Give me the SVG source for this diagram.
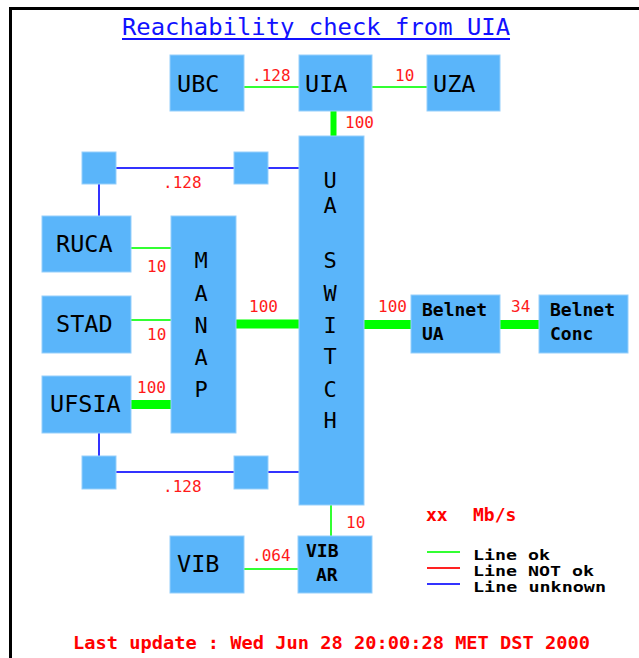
<svg xmlns="http://www.w3.org/2000/svg" width="639" height="658" viewBox="0 0 639 658">
<style>
.box{fill:#5ab5fa;stroke:#96cffb;stroke-width:1}
.lbl{font-family:"DejaVu Sans Mono","Liberation Mono",monospace;font-size:23.5px;fill:#000}
.vl{font-family:"DejaVu Sans Mono","Liberation Mono",monospace;font-size:22px;fill:#000;text-anchor:middle}
.sm{font-family:"DejaVu Sans Mono","Liberation Mono",monospace;font-size:18px;font-weight:bold;fill:#000}
.lg{font-family:"DejaVu Sans Mono","Liberation Mono",monospace;font-size:13.5px;font-weight:bold;fill:#000}
.rate{font-family:"DejaVu Sans Mono","Liberation Mono",monospace;font-size:16px;fill:#ff1a1a}
.ok{stroke:#33ff33;stroke-width:2;fill:none}
.okb{stroke:#00ff00;fill:none}
.unk{stroke:#3333ff;stroke-width:2;fill:none}
.nok{stroke:#ff2222;stroke-width:2;fill:none}
.red{font-family:"DejaVu Sans Mono","Liberation Mono",monospace;font-size:18px;font-weight:bold;fill:#ff0000}
</style>
<rect x="0" y="0" width="639" height="658" fill="#fff"/>
<g id="frame">
<rect x="9" y="7" width="630" height="3" fill="#000"/>
<rect x="9" y="7" width="3" height="651" fill="#000"/>
</g>
<g id="title">
<text x="122" y="35" textLength="388" lengthAdjust="spacingAndGlyphs" font-family="DejaVu Sans Mono, Liberation Mono, monospace" font-size="23" fill="#1111ff">Reachability check from UIA</text>
<line x1="122" y1="39" x2="510" y2="39" stroke="#1111ff" stroke-width="2"/>
</g>
<g id="connectors">
<line class="ok" x1="244" y1="87" x2="299" y2="87"/>
<line class="ok" x1="372" y1="87" x2="427" y2="87"/>
<line class="okb" x1="333.5" y1="111" x2="333.5" y2="136" stroke-width="6"/>
<line class="unk" x1="116" y1="168" x2="234" y2="168"/>
<line class="unk" x1="268" y1="168" x2="299" y2="168"/>
<line class="unk" x1="99" y1="184" x2="99" y2="216"/>
<line class="ok" x1="131" y1="248" x2="171" y2="248"/>
<line class="ok" x1="131" y1="320" x2="171" y2="320"/>
<line class="okb" x1="131" y1="404.5" x2="171" y2="404.5" stroke-width="9"/>
<line class="okb" x1="236" y1="324" x2="299" y2="324" stroke-width="9"/>
<line class="okb" x1="364" y1="324.5" x2="411" y2="324.5" stroke-width="9"/>
<line class="okb" x1="500" y1="324.5" x2="539" y2="324.5" stroke-width="9"/>
<line class="unk" x1="99" y1="433" x2="99" y2="456"/>
<line class="unk" x1="116" y1="472" x2="234" y2="472"/>
<line class="unk" x1="268" y1="472" x2="299" y2="472"/>
<line class="ok" x1="331" y1="505" x2="331" y2="536"/>
<line class="ok" x1="244" y1="569" x2="298" y2="569"/>
</g>
<g id="rates">
<text class="rate" x="252" y="81">.128</text>
<text class="rate" x="395" y="81">10</text>
<text class="rate" x="345" y="128">100</text>
<text class="rate" x="163" y="188">.128</text>
<text class="rate" x="147" y="272">10</text>
<text class="rate" x="147" y="340">10</text>
<text class="rate" x="137" y="393">100</text>
<text class="rate" x="249" y="312">100</text>
<text class="rate" x="378" y="312">100</text>
<text class="rate" x="511" y="312">34</text>
<text class="rate" x="163" y="492">.128</text>
<text class="rate" x="346" y="528">10</text>
<text class="rate" x="252" y="561">.064</text>
</g>
<g id="UBC"><rect class="box" x="170" y="55" width="74" height="56"/><text class="lbl" x="177" y="92">UBC</text></g>
<g id="UIA"><rect class="box" x="299" y="55" width="73" height="56"/><text class="lbl" x="305" y="92">UIA</text></g>
<g id="UZA"><rect class="box" x="427" y="55" width="73" height="56"/><text class="lbl" x="433" y="92">UZA</text></g>
<g id="hub1"><rect class="box" x="82" y="152" width="34" height="32"/></g>
<g id="hub2"><rect class="box" x="234" y="152" width="34" height="32"/></g>
<g id="hub3"><rect class="box" x="82" y="456" width="34" height="33"/></g>
<g id="hub4"><rect class="box" x="234" y="456" width="34" height="33"/></g>
<g id="UASWITCH"><rect class="box" x="299" y="136" width="65" height="369"/>
<text class="vl" x="330" y="188">U</text>
<text class="vl" x="330" y="213">A</text>
<text class="vl" x="330" y="268">S</text>
<text class="vl" x="330" y="301">W</text>
<text class="vl" x="330" y="333">I</text>
<text class="vl" x="330" y="364">T</text>
<text class="vl" x="330" y="397">C</text>
<text class="vl" x="330" y="428">H</text>
</g>
<g id="MANAP"><rect class="box" x="171" y="216" width="65" height="217"/>
<text class="vl" x="201" y="268">M</text>
<text class="vl" x="201" y="301">A</text>
<text class="vl" x="201" y="333">N</text>
<text class="vl" x="201" y="365">A</text>
<text class="vl" x="201" y="397">P</text>
</g>
<g id="RUCA"><rect class="box" x="42" y="216" width="89" height="56"/><text class="lbl" x="56" y="252">RUCA</text></g>
<g id="STAD"><rect class="box" x="42" y="296" width="89" height="57"/><text class="lbl" x="56" y="332">STAD</text></g>
<g id="UFSIA"><rect class="box" x="42" y="376" width="89" height="57"/><text class="lbl" x="50" y="412">UFSIA</text></g>
<g id="BelnetUA"><rect class="box" x="411" y="295" width="89" height="58"/><text class="sm" x="422" y="316">Belnet</text><text class="sm" x="422" y="340">UA</text></g>
<g id="BelnetConc"><rect class="box" x="539" y="295" width="89" height="58"/><text class="sm" x="550" y="316">Belnet</text><text class="sm" x="550" y="340">Conc</text></g>
<g id="VIB"><rect class="box" x="170" y="536" width="74" height="57"/><text class="lbl" x="177" y="572">VIB</text></g>
<g id="VIBAR"><rect class="box" x="298" y="536" width="74" height="57"/><text class="sm" x="306" y="557">VIB</text><text class="sm" x="316" y="581">AR</text></g>
<g id="legend">
<text class="red" x="426" y="521">xx</text>
<text class="red" x="473" y="521">Mb/s</text>
<line class="ok" x1="427" y1="552" x2="460" y2="552"/>
<line class="nok" x1="427" y1="568" x2="460" y2="568"/>
<line class="unk" x1="427" y1="584" x2="460" y2="584"/>
<text class="lg" x="473" y="560" textLength="77" lengthAdjust="spacingAndGlyphs">Line ok</text>
<text class="lg" x="473" y="576" textLength="121" lengthAdjust="spacingAndGlyphs">Line NOT ok</text>
<text class="lg" x="473" y="592" textLength="133" lengthAdjust="spacingAndGlyphs">Line unknown</text>
</g>
<g id="footer">
<text class="red" x="73" y="649" textLength="517" lengthAdjust="spacingAndGlyphs">Last update : Wed Jun 28 20:00:28 MET DST 2000</text>
</g>
</svg>
